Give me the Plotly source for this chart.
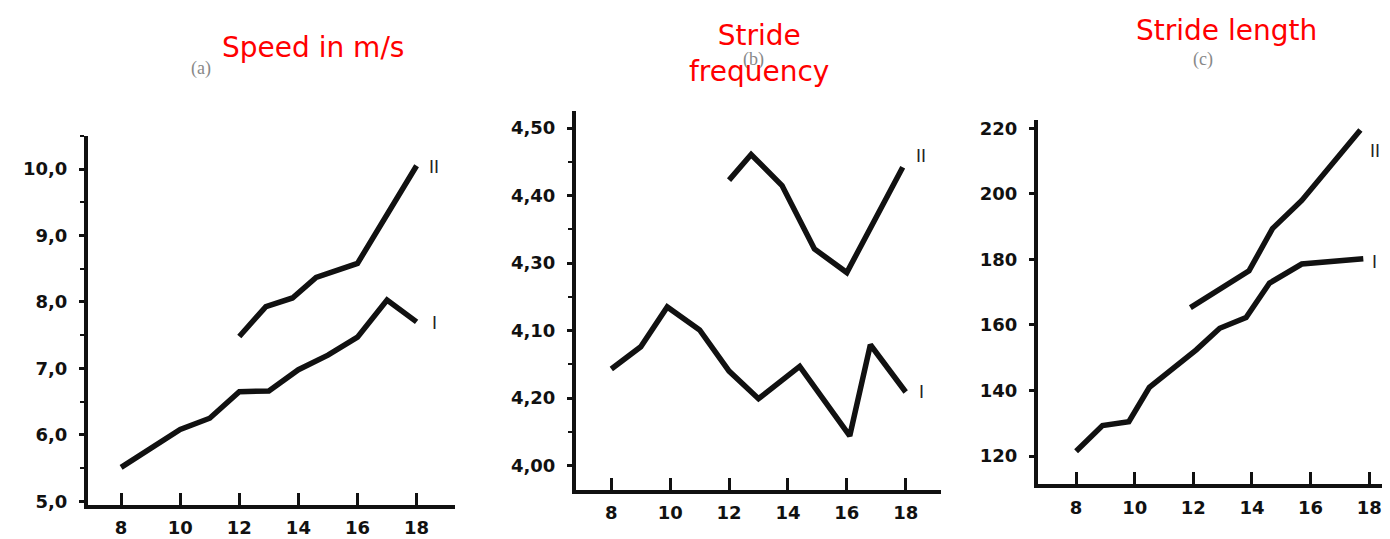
import plotly.graph_objects as go

W, H = 1390, 539

# ---------------- data ----------------
# (a) Speed in m/s
speed_I_age = [8, 10, 11, 12, 13, 14, 15, 16, 17, 18]
speed_I = [5.51, 6.08, 6.25, 6.65, 6.66, 6.98, 7.2, 7.47, 8.03, 7.7]
speed_II_age = [12, 12.9, 13.8, 14.6, 16, 17, 18]
speed_II = [7.48, 7.93, 8.06, 8.37, 8.58, 9.3, 10.05]
speed_ticks = [5, 6, 7, 8, 9, 10]
speed_ticktext = ["5,0", "6,0", "7,0", "8,0", "9,0", "10,0"]

# (b) Stride frequency
freq_I_age = [8, 9, 9.9, 11, 12, 13, 14.4, 16.1, 16.8, 18]
freq_I = [4.143, 4.176, 4.235, 4.201, 4.14, 4.099, 4.147, 4.044, 4.179, 4.109]
freq_II_age = [12, 12.75, 13.8, 14.9, 16, 17.9]
freq_II = [4.423, 4.461, 4.415, 4.321, 4.286, 4.442]
freq_ticks = [4.0, 4.1, 4.2, 4.3, 4.4, 4.5]
freq_ticktext = ["4,00", "4,20", "4,10", "4,30", "4,40", "4,50"]

# (c) Stride length
len_I_age = [8, 8.9, 9.8, 10.5, 12.1, 12.9, 13.8, 14.6, 15.7, 17.8]
len_I = [121.5, 129.3, 130.5, 141, 152.4, 159, 162.3, 172.8, 178.6, 180.2]
len_II_age = [11.9, 13.9, 14.7, 15.7, 17.7]
len_II = [165.3, 176.5, 189.4, 198, 219.5]
len_ticks = [120, 140, 160, 180, 200, 220]
len_ticktext = ["120", "140", "160", "180", "200", "220"]

age_ticks = [8, 10, 12, 14, 16, 18]
titles = ["Speed in m/s", "Stride<br>frequency", "Stride length"]
panel_tags = ["(a)", "(b)", "(c)"]

# ---------------- layout helpers ----------------
def px_x(a, b):
    return [a / W, b / W]

def px_y(top, bottom):
    return [(H - bottom) / H, (H - top) / H]

panels = [
    dict(xd=px_x(80, 447), yd=px_y(128, 503), xr=[6.88, 19.3], yr=[4.95, 10.5],
         yt=speed_ticks, ytt=speed_ticktext, minor=0.5,
         series=[(speed_I_age, speed_I), (speed_II_age, speed_II)]),
    dict(xd=px_x(568, 933), yd=px_y(103, 488), xr=[6.8, 19.2], yr=[3.964, 4.525],
         yt=freq_ticks, ytt=freq_ticktext, minor=0.05,
         series=[(freq_I_age, freq_I), (freq_II_age, freq_II)]),
    dict(xd=px_x(1030, 1389), yd=px_y(112, 482), xr=[6.7, 18.95], yr=[111.5, 222.5],
         yt=len_ticks, ytt=len_ticktext, minor=None,
         series=[(len_I_age, len_I), (len_II_age, len_II)]),
]

fig = go.Figure()
tickfont = dict(family="DejaVu Sans", size=18, color="#111", weight="bold")

for i, p in enumerate(panels):
    n = "" if i == 0 else str(i + 1)
    for xs, ys in p["series"]:
        fig.add_trace(go.Scatter(x=xs, y=ys, mode="lines",
                                 line=dict(color="#111", width=5.5),
                                 xaxis="x" + n, yaxis="y" + n,
                                 showlegend=False, hoverinfo="skip"))
    xa = dict(domain=p["xd"], range=p["xr"], anchor="y" + n,
              tickvals=age_ticks, ticktext=[str(v) for v in age_ticks],
              showgrid=False, zeroline=False, showline=True,
              linecolor="#111", linewidth=4, ticks="inside", ticklen=12,
              tickwidth=3, tickcolor="#111", tickfont=tickfont,
              ticklabelstandoff=4)
    ya = dict(domain=p["yd"], range=p["yr"], anchor="x" + n,
              tickvals=p["yt"], ticktext=p["ytt"],
              showgrid=False, zeroline=False, showline=True,
              linecolor="#111", linewidth=4, ticks="outside", ticklen=5,
              tickwidth=3, tickcolor="#111", tickfont=tickfont,
              ticklabelstandoff=8)
    if p["minor"]:
        ya["minor"] = dict(dtick=p["minor"], ticks="outside", ticklen=4,
                           tickwidth=2, tickcolor="#111", showgrid=False)
    fig.update_layout(**{"xaxis" + n: xa, "yaxis" + n: ya})

# series labels I / II
series_labels = [
    (426, 160, "II"), (426, 318, "I"),
    (913, 148, "II"), (913, 388, "I"),
    (1367, 143, "II"), (1366, 256, "I"),
]
annotations = []
for x, y, t in series_labels:
    annotations.append(dict(x=x / W, y=(H - y) / H, xref="paper", yref="paper",
                            xanchor="center", yanchor="middle",
                            text=t, showarrow=False,
                            font=dict(family="Liberation Sans", size=18, color="#222")))

# panel tags (faint)
for (x, y), t in zip([(193, 60), (745, 50), (1195, 50)], panel_tags):
    annotations.append(dict(x=x / W, y=(H - y) / H, xref="paper", yref="paper",
                            xanchor="center", yanchor="middle",
                            text=t, showarrow=False,
                            font=dict(family="Liberation Serif", size=18, color="#888")))

# red titles
for (x, y), t in zip([(305, 38), (751, 44), (1218, 21)], titles):
    annotations.append(dict(x=x / W, y=(H - y) / H, xref="paper", yref="paper",
                            xanchor="center", yanchor="middle",
                            text=t, showarrow=False,
                            font=dict(family="DejaVu Sans", size=28, color="#ff0000")))

fig.update_layout(width=W, height=H, margin=dict(l=0, r=0, t=0, b=0),
                  plot_bgcolor="white", paper_bgcolor="white",
                  annotations=annotations)

fig.write_html("out.html")
